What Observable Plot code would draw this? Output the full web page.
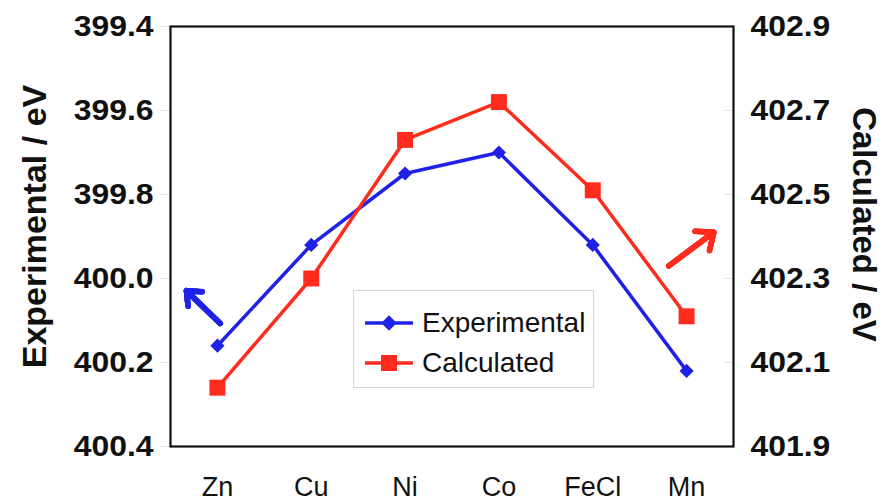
<!DOCTYPE html>
<html>
<head>
<meta charset="utf-8">
<script src="https://cdn.jsdelivr.net/npm/d3@7"></script>
<script src="https://cdn.jsdelivr.net/npm/@observablehq/plot@0.6"></script>
<style>
  body { margin: 0; background: #fff; }
  #chart { position: relative; width: 885px; height: 501px; font-family: "Liberation Sans", Arial, sans-serif; }
  #chart svg { display: block; }
  .legend {
    position: absolute; left: 353px; top: 290px; width: 241px; height: 98px;
    box-sizing: border-box; border: 1px solid #d6d6d6; background: #fff;
  }
  .legend .row { position: absolute; left: 11px; height: 30px; display: flex; align-items: center; }
  .legend .row span { font-size: 28px; color: #111; margin-left: 9px; line-height: 30px; }
</style>
</head>
<body>
<div id="chart"></div>
<script>
const categories = ["Zn", "Cu", "Ni", "Co", "FeCl", "Mn"];
const experimental = [400.16, 399.92, 399.75, 399.70, 399.92, 400.22];
const calculated = [402.04, 402.30, 402.63, 402.72, 402.51, 402.21];
const leftTicks = [399.4, 399.6, 399.8, 400.0, 400.2, 400.4];
const rightTicks = [401.9, 402.1, 402.3, 402.5, 402.7, 402.9];

const blue = "#1f22e6";
const red = "#ff2b1c";

// The right-hand (calculated) axis runs opposite to the left one:
// 402.9 sits level with 399.4 at the top, 401.9 level with 400.4 at the bottom.
const toLeft = v => 399.4 + (402.9 - v);
const fromLeft = v => 399.4 + 402.9 - v;

const rows = categories.map((c, i) => ({
  i, c,
  exp: experimental[i],
  calc: toLeft(calculated[i])
}));

// Hint arrows telling which axis each curve belongs to
const blueArrow = [{x1: 0.03, y1: 400.107, x2: -0.33, y2: 400.029}];
const redArrow = [{x1: 4.81, y1: toLeft(402.33), x2: 5.29, y2: toLeft(402.41)}];

const font = "Liberation Sans, Arial, sans-serif";

// a solid-looking arrow: shaft plus nested heads that fill the chevron
const hintArrow = (data, color) => [12, 9, 6, 3].map(h =>
  Plot.arrow(data, {
    x1: "x1", y1: "y1", x2: "x2", y2: "y2",
    stroke: color, strokeWidth: 5.5, headLength: h, headAngle: 80, strokeLinejoin: "miter"
  })
);

const chart = Plot.plot({
  width: 885,
  height: 501,
  marginLeft: 170,
  marginRight: 152,
  marginTop: 26,
  marginBottom: 55,
  style: {fontFamily: font, background: "#fff"},
  x: {domain: [-0.5, 5.5], label: null},
  y: {domain: [400.4, 399.4], label: null},
  marks: [
    // faint tick stubs
    Plot.axisY(leftTicks, {anchor: "left", tickSize: 9, stroke: "#e2e2e2", tickFormat: () => "", label: null}),
    Plot.axisY(rightTicks.map(toLeft), {anchor: "right", tickSize: -10, stroke: "#e2e2e2", tickFormat: () => "", label: null}),
    // tick labels
    Plot.axisY(leftTicks, {
      anchor: "left", tickSize: 0, tickPadding: 17,
      tickFormat: d => d.toFixed(1), fontSize: 29, fontWeight: "bold", fill: "#111", label: null
    }),
    Plot.axisY(rightTicks.map(toLeft), {
      anchor: "right", tickSize: 0, tickPadding: 17,
      tickFormat: d => fromLeft(d).toFixed(1), fontSize: 29, fontWeight: "bold", fill: "#111", label: null
    }),
    Plot.axisX(d3.range(categories.length), {
      anchor: "bottom", tickSize: 0, tickPadding: 30,
      tickFormat: i => categories[i], fontSize: 27, fill: "#111", label: null
    }),
    // axis titles
    Plot.text(["Experimental / eV"], {
      frameAnchor: "left", textAnchor: "middle", dx: -135, dy: -10, rotate: -90,
      fontSize: 34, fontWeight: "bold", fill: "#111"
    }),
    Plot.text(["Calculated / eV"], {
      frameAnchor: "right", textAnchor: "middle", dx: 130, dy: -12, rotate: 90,
      fontSize: 33, fontWeight: "bold", fill: "#111"
    }),
    Plot.frame({stroke: "#111", strokeWidth: 2.2}),
    // series
    Plot.line(rows, {x: "i", y: "exp", stroke: blue, strokeWidth: 3.5}),
    Plot.line(rows, {x: "i", y: "calc", stroke: red, strokeWidth: 3.5}),
    Plot.dot(rows, {x: "i", y: "exp", symbol: "diamond2", r: 6.4, fill: blue, stroke: null}),
    Plot.dot(rows, {x: "i", y: "calc", symbol: "square", r: 9, fill: red, stroke: null}),
    // axis hint arrows
    ...hintArrow(blueArrow, blue),
    ...hintArrow(redArrow, red)
  ]
});

// widen the bold y tick numerals a little, keeping their anchor in place
chart.querySelectorAll('g[aria-label="y-axis tick label"] text').forEach(t => {
  const tr = t.getAttribute("transform");
  if (tr) t.setAttribute("transform", tr + " scale(1.1,1)");
});

const root = document.getElementById("chart");
root.appendChild(chart);

// Legend box inside the plot area
const legend = document.createElement("div");
legend.className = "legend";
legend.innerHTML = `
  <div class="row" style="top:17px">
    <svg width="48" height="30"><line x1="0" y1="15" x2="48" y2="15" stroke="${blue}" stroke-width="3.5"/>
      <rect x="18.5" y="9.5" width="11" height="11" fill="${blue}" transform="rotate(45 24 15)"/></svg>
    <span>Experimental</span>
  </div>
  <div class="row" style="top:57px">
    <svg width="48" height="30"><line x1="0" y1="15" x2="48" y2="15" stroke="${red}" stroke-width="3.5"/>
      <rect x="16" y="7" width="16" height="16" fill="${red}"/></svg>
    <span>Calculated</span>
  </div>`;
root.appendChild(legend);
</script>
</body>
</html>
